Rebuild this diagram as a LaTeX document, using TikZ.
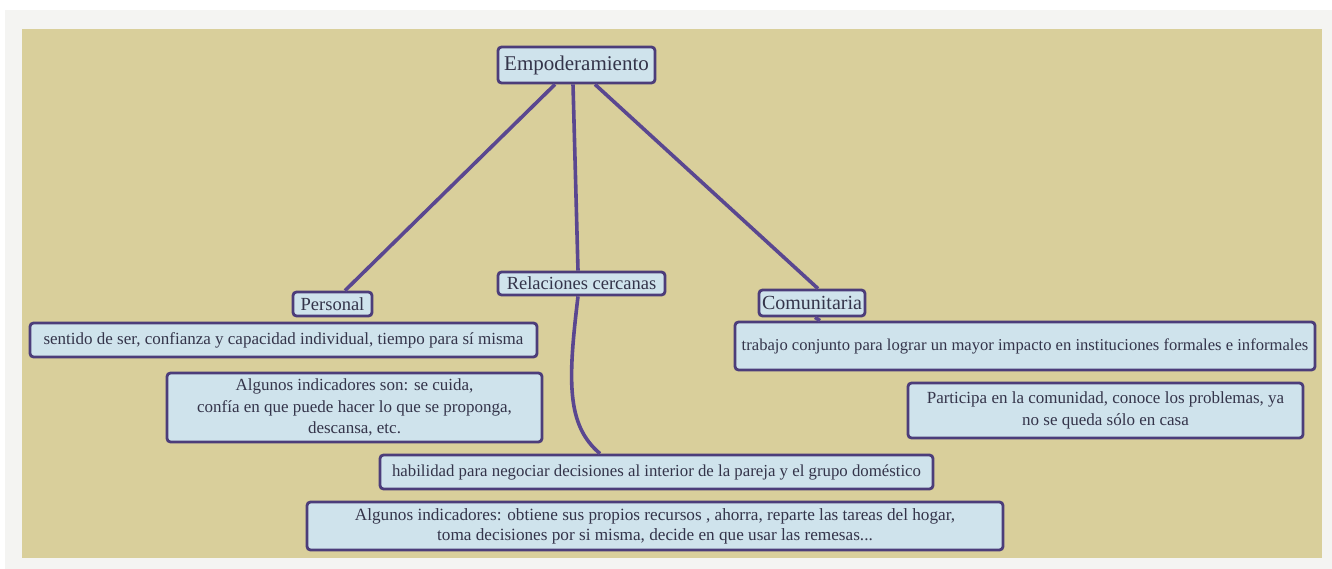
\documentclass[tikz,border=0pt]{standalone}
\usepackage{fontspec}
\setmainfont{Liberation Serif}
\definecolor{tan}{HTML}{D9CF9B}
\definecolor{pale}{HTML}{F4F4F2}
\definecolor{boxfill}{HTML}{CFE3EC}
\definecolor{boxline}{HTML}{4C3D7A}
\definecolor{linkc}{HTML}{5A4790}
\definecolor{txt}{HTML}{34344A}
\tikzset{
  box/.style={draw=boxline, line width=2.8pt, fill=boxfill, rounded corners=3.5pt,
    inner sep=0pt, align=center, text=txt, font=\fontsize{17}{21.5}\selectfont},
  link/.style={draw=linkc, line width=3.6pt}
}
\begin{document}
\begin{tikzpicture}[x=1pt,y=-1pt]
\useasboundingbox (0,0) rectangle (1332,569);
\fill[white] (0,0) rectangle (1332,569);
\fill[pale] (5,10) rectangle (1332,569);
\fill[tan] (22,29) rectangle (1322,558);
% nodes
\node[box, minimum width=157pt, minimum height=36pt, font=\fontsize{21}{25}\selectfont] (emp) at (576.5,65) {Empoderamiento};
\node[box, minimum width=79pt, minimum height=24pt, font=\fontsize{18.5}{22}\selectfont] (pers) at (332.5,304) {Personal};
\node[box, minimum width=167pt, minimum height=23pt, font=\fontsize{18.5}{22}\selectfont] (rel) at (581.5,283.5) {Relaciones cercanas};
\node[box, minimum width=106pt, minimum height=26pt, font=\fontsize{20}{24}\selectfont] (com) at (812,303) {Comunitaria};
\node[box, minimum width=507pt, minimum height=34pt] (sent) at (283.5,340) {sentido de ser, confianza y capacidad individual, tiempo para sí misma};
\node[box, minimum width=375pt, minimum height=69pt] (alg1) at (354.5,407.5) {Algunos indicadores son: se cuida,\\ confía en que puede hacer lo que se proponga,\\ descansa, etc.};
\node[box, minimum width=580pt, minimum height=48pt, font=\fontsize{16.6}{21}\selectfont] (trab) at (1025,346) {trabajo conjunto para lograr un mayor impacto en instituciones formales e informales};
\node[box, minimum width=395pt, minimum height=55pt, font=\fontsize{17}{22}\selectfont] (part) at (1105.5,410.5) {Participa en la comunidad, conoce los problemas, ya\\ no se queda sólo en casa};
\node[box, minimum width=553pt, minimum height=34pt, font=\fontsize{16.8}{21}\selectfont] (hab) at (656.5,472) {habilidad para negociar decisiones al interior de la pareja y el grupo doméstico};
\node[box, minimum width=696pt, minimum height=48pt, font=\fontsize{17.2}{20}\selectfont] (alg2) at (655,526) {Algunos indicadores: obtiene sus propios recursos , ahorra, reparte las tareas del hogar,\\ toma decisiones por si misma, decide en que usar las remesas...};
% connectors
\draw[link] ([xshift=-21.5pt]emp.south) -- ([xshift=12.5pt]pers.north);
\draw[link] ([xshift=-3.5pt]emp.south) -- ([xshift=-3.5pt]rel.north);
\draw[link] ([xshift=18.5pt]emp.south) -- ([xshift=6pt]com.north);
\draw[link] ([xshift=3pt]com.south) -- ([xshift=-205pt]trab.north);
\draw[link] ([xshift=-3.5pt]rel.south) .. controls (568,380) and (566,425) .. ([xshift=-56.5pt]hab.north);
\end{tikzpicture}
\end{document}
